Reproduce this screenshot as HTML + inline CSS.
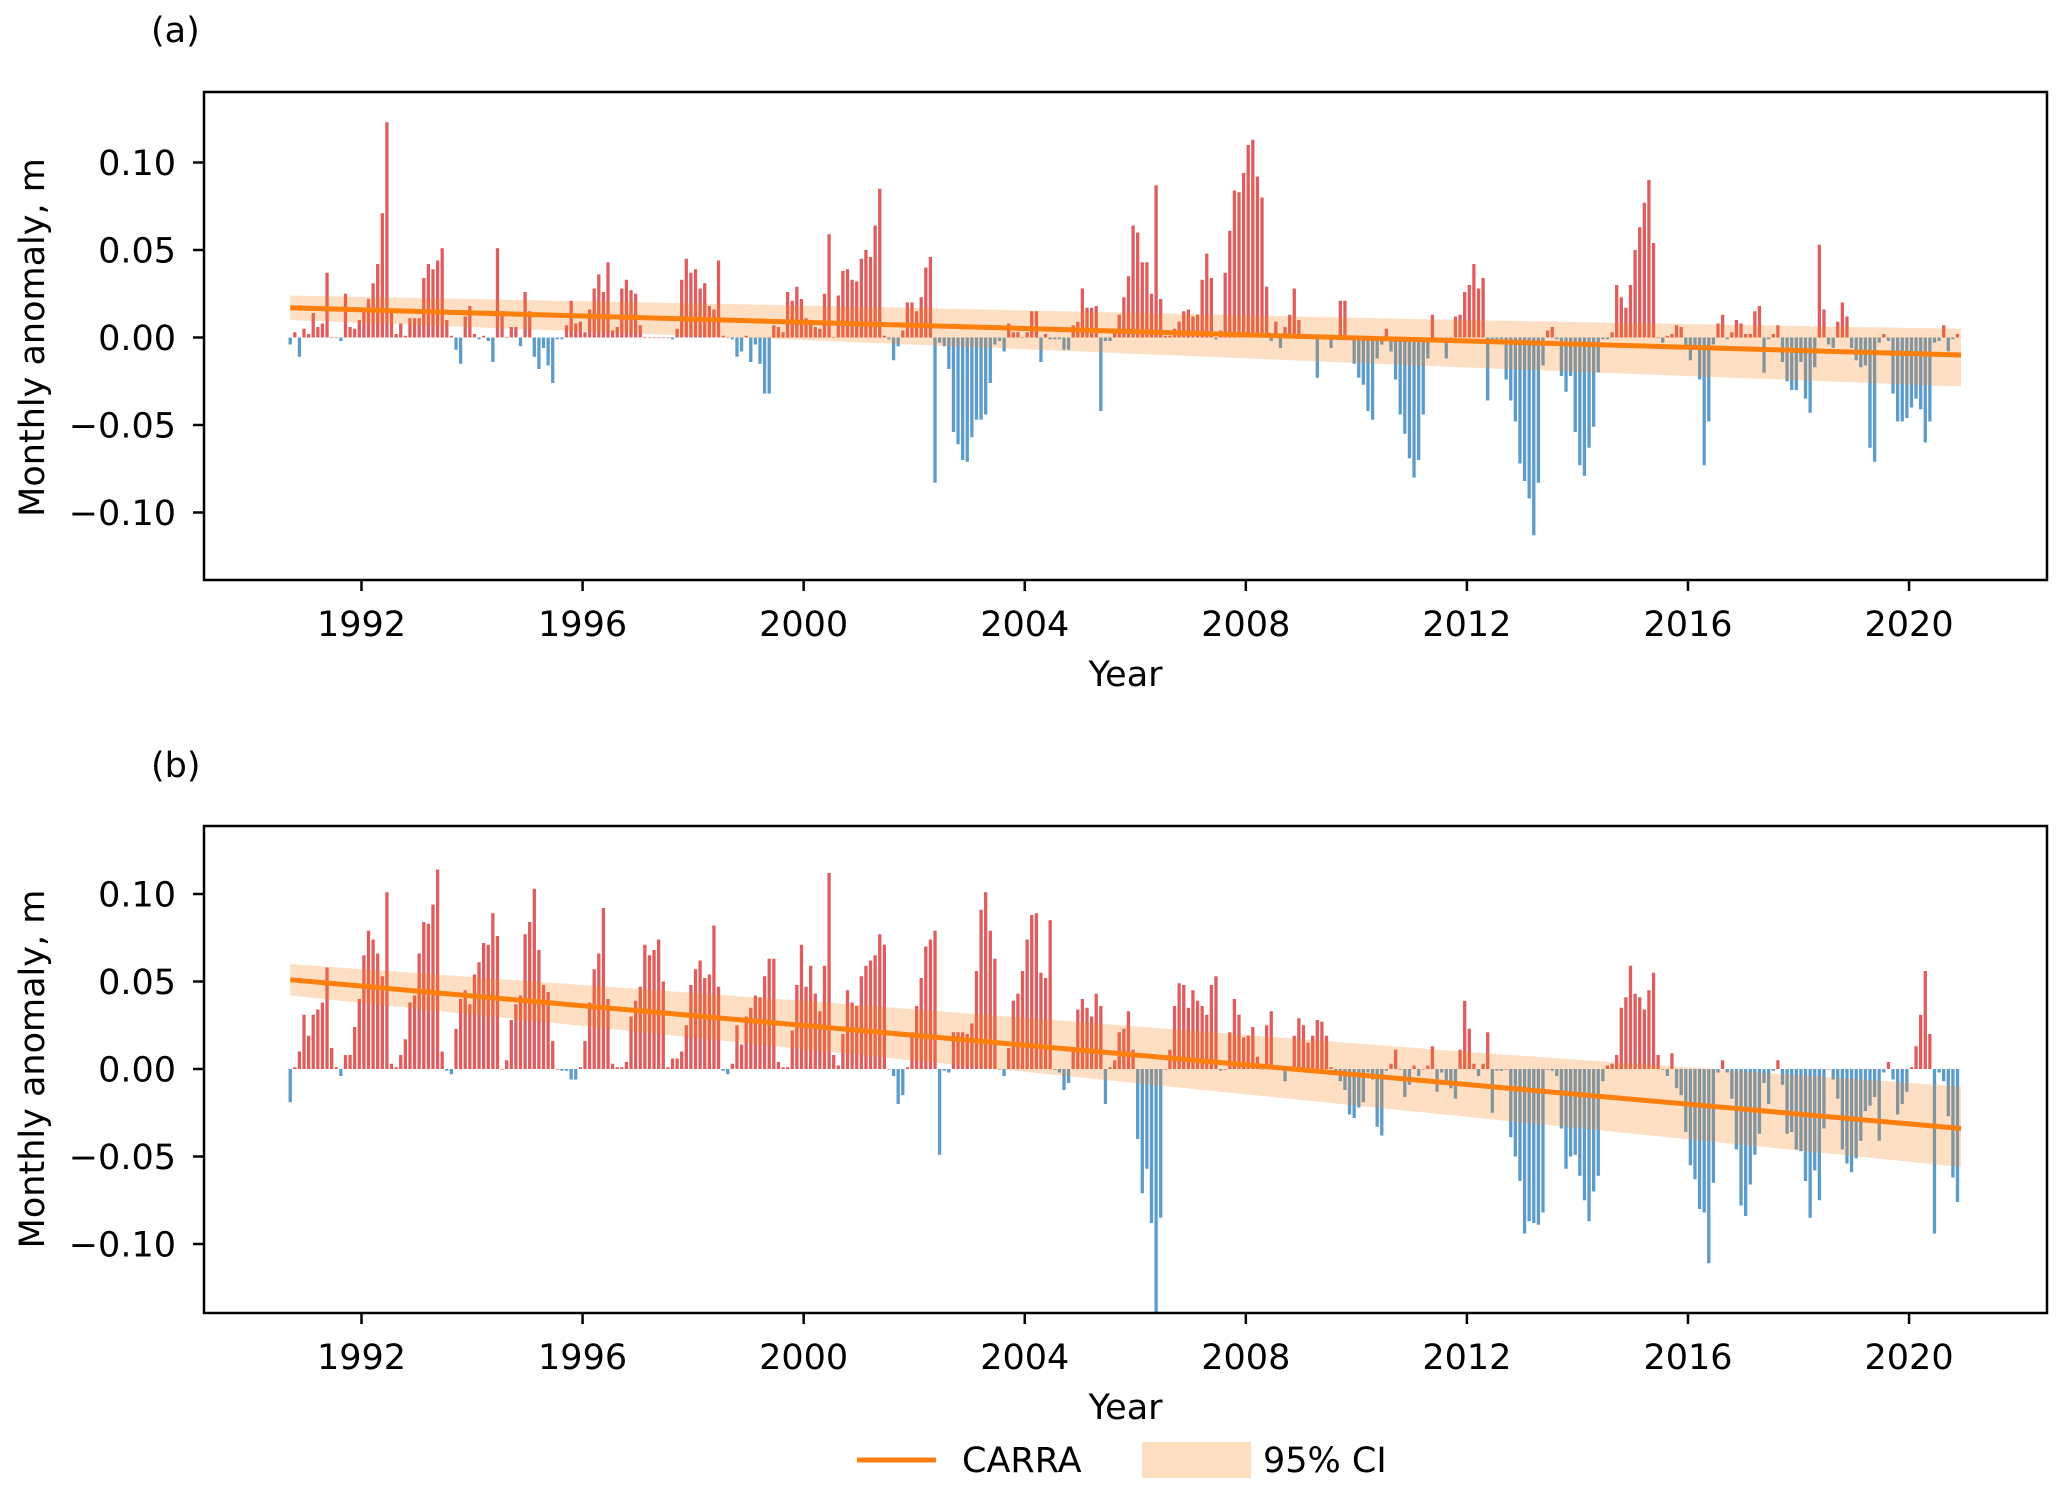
<!DOCTYPE html>
<html><head><meta charset="utf-8">
<style>
html,body{margin:0;padding:0;background:#fff;}
svg{display:block;font-family:"DejaVu Sans","Liberation Sans",sans-serif;}
</style></head>
<body>
<svg id="fig" width="2067" height="1496" viewBox="0 0 2067 1496" xmlns="http://www.w3.org/2000/svg">
<rect x="0" y="0" width="2067" height="1496" fill="#fff"/>
<text x="151" y="42" font-size="35">(a)</text>
<text x="151" y="777" font-size="35">(b)</text>
<g id="pa"></g>
<g id="pb"></g>
<g>
<line x1="857" y1="1460" x2="936" y2="1460" stroke="#ff7f0e" stroke-width="5"/>
<text x="962" y="1472" font-size="35">CARRA</text>
<rect x="1142" y="1442" width="109" height="36" fill="#ffdfc2"/>
<text x="1263" y="1472" font-size="35">95% CI</text>
</g>
</svg>
<script>
const START_YEAR = 1990.71;
const xTickYears = [1992,1996,2000,2004,2008,2012,2016,2020];
const xTickLabels = ["1992","1996","2000","2004","2008","2012","2016","2020"];
const yTickValues = [0.10,0.05,0.00,-0.05,-0.10];
const yTickLabels = ["0.10","0.05","0.00","\u22120.05","\u22120.10"];

const anomA = [-0.004,0.003,-0.011,0.005,0.002,0.014,0.006,0.008,0.037,0,
0,-0.002,0.025,0.006,0.005,0.010,0.015,0.022,0.031,0.042,
0.071,0.123,0.014,0.002,0.008,0.001,0.011,0.011,0.011,0.034,
0.042,0.039,0.044,0.051,0.010,0.001,-0.007,-0.015,0.012,0.018,
0.002,-0.001,0.001,-0.002,-0.014,0.051,0.015,0,0.006,0.006,
-0.005,0.026,0.015,-0.011,-0.018,-0.006,-0.016,-0.026,-0.001,-0.001,
0.007,0.021,0.008,0.009,0.003,0.016,0.028,0.036,0.026,0.043,
0.004,0.006,0.028,0.033,0.027,0.025,0.007,0,0,0,
0,0,0,-0.001,0.005,0.033,0.045,0.037,0.039,0.028,
0.031,0.018,0.016,0.044,0.001,0,-0.001,-0.011,-0.008,0.001,
-0.014,-0.004,-0.015,-0.032,-0.032,0.007,0.006,0.003,0.026,0.021,
0.029,0.022,0.011,0.010,0.006,0.005,0.025,
0.059,0,0.024,0.038,0.039,0.033,0.032,0.045,0.050,0.046,
0.064,0.085,0.001,-0.001,-0.013,-0.005,0.004,0.020,0.020,0.015,
0.023,0.040,0.046,-0.083,-0.003,-0.005,-0.018,-0.054,-0.061,-0.070,
-0.071,-0.057,-0.047,-0.047,-0.044,-0.026,-0.004,-0.002,-0.008,0.008,
0.003,0.003,0,0.003,0.015,0.015,-0.014,0.002,-0.001,-0.001,
-0.001,-0.007,-0.007,0.007,0.009,0.028,0.017,0.017,0.018,-0.042,
-0.002,-0.002,0.005,0.013,0.023,0.035,0.064,0.060,0.043,0.043,
0.025,0.087,0.022,0.001,0.001,0.005,0.009,0.015,0.016,0.012,
0.013,0.033,0.048,0.034,-0.001,0.004,0.037,0.061,0.084,0.083,
0.094,0.110,0.113,0.092,0.080,0.029,-0.002,0.009,-0.006,0.006,
0.013,0.028,0.010,0,0,0,-0.023,0,0.001,-0.006,
0,0.021,0.021,0,-0.015,-0.023,-0.027,-0.042,-0.047,-0.012,
-0.004,0.005,-0.008,-0.024,-0.044,-0.055,-0.069,-0.080,-0.070,-0.044,
-0.012,0.013,0,0,-0.012,0,
0.012,0.013,0.026,0.030,0.042,0.028,0.034,-0.036,-0.001,-0.001,-0.001,
-0.024,-0.036,-0.048,-0.072,-0.082,-0.092,-0.113,-0.083,-0.016,0.004,0.006,-0.001,
-0.022,-0.031,-0.022,-0.054,-0.073,-0.079,-0.063,-0.051,-0.020,-0.001,-0.001,0.003,
0.030,0.023,0.017,0.030,0.050,0.063,0.077,0.090,0.054,0,-0.003,0.001,0.002,0.007,0.006,
-0.005,-0.013,-0.005,-0.024,-0.073,-0.048,-0.004,0.008,0.013,-0.001,0.003,0.010,0.008,
0.002,0.002,0.015,0.018,-0.020,-0.001,0.002,0.007,-0.014,-0.025,-0.030,-0.030,-0.014,
-0.035,-0.043,-0.017,0.053,0.016,-0.004,-0.006,0.009,0.020,0.012,-0.006,-0.013,-0.017,
-0.016,-0.063,-0.071,-0.003,0.002,-0.002,-0.032,-0.048,-0.048,-0.046,-0.040,-0.035,
-0.041,-0.060,-0.048,-0.003,-0.002,0.007,-0.008,-0.001,0.002];

const anomB = [-0.019,0.001,0.010,0.031,0.019,0.031,0.034,0.038,0.058,0.012,
0.001,-0.004,0.008,0.008,0.024,0.040,0.065,0.079,0.074,0.066,
0.053,0.101,0.003,0.001,0.008,0.017,0.038,0.042,0.066,0.084,
0.083,0.094,0.114,0.010,-0.001,-0.003,0.023,0.040,0.045,0.037,
0.054,0.061,0.072,0.071,0.089,0.076,0,0.005,0.028,0.037,
0.042,0.077,0.084,0.103,0.068,0.048,0.044,0.016,0,-0.001,
-0.001,-0.006,-0.006,0.001,0.016,0.038,0.057,0.066,0.092,0.040,
0.003,0.001,0.001,0.004,0.030,0.039,0.047,0.071,0.065,0.068,
0.074,0.050,0.001,0.006,0.006,0.010,0.025,0.048,0.057,0.062,
0.052,0.054,0.082,0.047,-0.001,-0.003,0.003,0.025,0.014,0.030,
0.035,0.042,0.041,0.053,0.063,0.063,0.004,0.001,0.001,0.022,
0.048,0.071,0.047,0.059,0.043,0.033,0.059,0.112,
0.008,0.002,0.020,0.045,0.038,0.036,0.053,0.059,0.062,0.065,
0.077,0.071,0,-0.004,-0.020,-0.015,0.001,0.021,0.036,0.052,
0.070,0.074,0.079,-0.049,-0.001,-0.002,0.021,0.021,0.021,0.020,
0.026,0.056,0.091,0.101,0.079,0.063,0,-0.004,0.012,0.039,
0.043,0.056,0.074,0.088,0.089,0.055,0.052,0.085,0,-0.002,
-0.012,-0.008,0.011,0.034,0.040,0.035,0.030,0.043,0.036,-0.020,
0.001,0.005,0.021,0.023,0.033,0.011,-0.040,-0.071,-0.057,-0.088,
-0.139,-0.085,0,0.011,0.036,0.049,0.048,0.035,0.045,0.039,
0.036,0.031,0.048,0.053,-0.001,0,0.021,0.040,0.031,0.018,
0.019,0.024,0.007,0,0.025,0.033,0,0,-0.007,-0.001,
0.019,0.029,0.025,0.015,0.019,0.028,0.027,0.019,0.001,-0.001,
-0.007,-0.012,-0.026,-0.028,-0.022,-0.019,-0.002,-0.006,-0.033,-0.038,
-0.001,0.003,0.011,0,-0.016,-0.009,0.002,-0.004,0,0.002,
0.013,-0.013,-0.002,-0.007,-0.011,-0.017,
0.011,0.039,0.023,0.003,-0.004,0.003,0.021,-0.025,-0.001,-0.001,0,
-0.039,-0.050,-0.064,-0.094,-0.087,-0.088,-0.089,-0.082,0,-0.001,-0.004,
-0.034,-0.057,-0.050,-0.049,-0.061,-0.075,-0.087,-0.070,-0.061,-0.007,0.002,0.003,
0.008,0.035,0.041,0.059,0.043,0.041,0.034,0.045,0.055,0.008,0,-0.004,
0.009,-0.011,-0.015,-0.036,-0.055,-0.063,-0.080,-0.082,-0.111,-0.065,-0.002,0.005,
-0.002,-0.017,-0.046,-0.078,-0.084,-0.066,-0.049,-0.037,-0.008,-0.020,-0.001,0.005,
-0.009,-0.037,-0.036,-0.046,-0.047,-0.064,-0.085,-0.058,-0.075,-0.034,0,-0.006,
-0.017,-0.046,-0.054,-0.059,-0.051,-0.041,-0.024,-0.021,-0.016,-0.041,-0.002,0.004,
-0.006,-0.026,-0.020,-0.013,0.001,0.013,0.031,0.056,0.020,-0.094,-0.002,-0.007,
-0.027,-0.062,-0.076];

const trendYears = [1990.71, 2020.94];
const trendA = [0.017, -0.010];
const trendB = [0.051, -0.034];
const ciYears = [1990.71, 2000.4, 2011.9, 2020.94];
const ciLowA = [0.010, -0.002, -0.017, -0.028];
const ciHighA = [0.024, 0.018, 0.010, 0.005];
const ciLowB = [0.042, 0.010, -0.027, -0.056];
const ciHighB = [0.060, 0.038, 0.010, -0.010];

const NS = "http://www.w3.org/2000/svg";
const AX_L = 204, AX_R = 2047;
function xOf(year){ return 361.5 + (year - 1992) * 55.27; }
function mk(tag, attrs, parent){
  const el = document.createElementNS(NS, tag);
  for (const k in attrs) el.setAttribute(k, attrs[k]);
  parent.appendChild(el);
  return el;
}

function drawPanel(gid, top, bottom, zeroY, anom, trend, ciLow, ciHigh, tickBase, yearBase){
  const g = document.getElementById(gid);
  const yOf = v => zeroY - v * 1750;
  const bars = mk('g', {}, g);
  
  
  anom.forEach((v, i) => {
    const x = xOf(START_YEAR + i / 12);
    const y0 = yOf(0), y1 = yOf(v);
    const r = mk('rect', {x: (x - 1.65).toFixed(2), y: Math.min(y0, y1).toFixed(2),
      width: 3.3, height: Math.max(Math.abs(y1 - y0), 0.6).toFixed(2),
      fill: v >= 0 ? '#e05c5d' : '#5b9ccd'}, bars);
    
    
  });
  let pts = [];
  ciYears.forEach((yr, i) => pts.push(xOf(yr).toFixed(1) + ',' + yOf(ciHigh[i]).toFixed(1)));
  for (let i = ciYears.length - 1; i >= 0; i--) pts.push(xOf(ciYears[i]).toFixed(1) + ',' + yOf(ciLow[i]).toFixed(1));
  const band = mk('polygon', {points: pts.join(' '), fill: '#ff7f0e', 'fill-opacity': 0.25}, g);
  
  
  const tl = mk('line', {x1: xOf(trendYears[0]), y1: yOf(trend[0]), x2: xOf(trendYears[1]), y2: yOf(trend[1]),
    stroke: '#ff7f0e', 'stroke-width': 5}, g);
  
  
  const fr = mk('rect', {x: AX_L, y: top, width: AX_R - AX_L, height: bottom - top, fill: 'none', stroke: '#000', 'stroke-width': 2.5}, g);
  
  
  xTickYears.forEach((yr, i) => {
    const x = xOf(yr);
    const t = mk('line', {x1: x, y1: bottom, x2: x, y2: bottom + 11, stroke: '#000', 'stroke-width': 2.5}, g);
    
    
    const lb = mk('text', {x: x, y: tickBase, 'font-size': 35, 'text-anchor': 'middle'}, g);
    lb.textContent = xTickLabels[i];
    
    
  });
  yTickValues.forEach((v, i) => {
    const y = yOf(v);
    const t = mk('line', {x1: AX_L - 11, y1: y, x2: AX_L, y2: y, stroke: '#000', 'stroke-width': 2.5}, g);
    
    
    const lb = mk('text', {x: 176, y: y + 12.5, 'font-size': 35, 'text-anchor': 'end'}, g);
    lb.textContent = yTickLabels[i];
    
    
  });
  const xl = mk('text', {x: (AX_L + AX_R) / 2, y: yearBase, 'font-size': 35, 'text-anchor': 'middle'}, g);
  xl.textContent = 'Year';
  
  
  const yl = mk('text', {x: 0, y: 0, 'font-size': 35, 'text-anchor': 'middle',
    transform: 'translate(44,' + zeroY + ') rotate(-90)'}, g);
  yl.textContent = 'Monthly anomaly, m';
  
  
}

drawPanel('pa', 92, 580, 337.5, anomA, trendA, ciLowA, ciHighA, 636, 686);
drawPanel('pb', 826, 1313, 1069, anomB, trendB, ciLowB, ciHighB, 1369, 1419);
</script>
</body></html>
